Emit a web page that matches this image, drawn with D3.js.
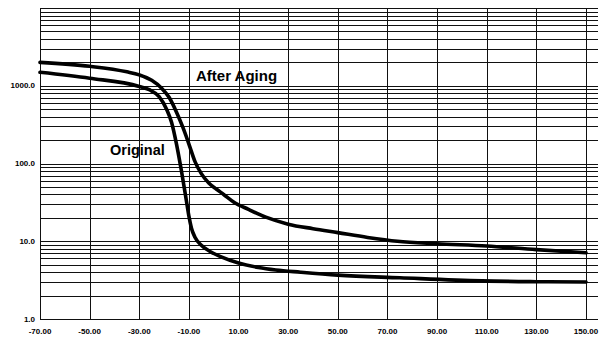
<!DOCTYPE html>
<html>
<head>
  <meta charset="utf-8">
  <title>After Aging vs Original</title>
  <script src="https://d3js.org/d3.v7.min.js"></script>
  <style>
    body { margin: 0; background: #fff; }
    text { font-family: 'Liberation Sans', Arial, sans-serif; font-weight: bold; fill: #000; }
    .grid line { stroke: #111; stroke-width: 1.3px; shape-rendering: crispEdges; }
    .curve { fill: none; stroke: #000; stroke-width: 3.6px; stroke-linecap: round; }
  </style>
</head>
<body>
  <div id="chart"></div>
  <script>
    // temperature ticks along the bottom
    const xTicks = [-70, -50, -30, -10, 10, 30, 50, 70, 90, 110, 130, 150];
    // labelled decades on the log axis
    const yLabels = [1, 10, 100, 1000];

    // "After Aging" curve
    const agedX = [-70, -50, -35, -30, -25, -21, -18, -15, -12.5, -10, -7.5, -5, -2, 1, 4, 8, 14, 21, 30, 40, 50, 62, 74, 90, 110, 130, 150];
    const agedY = [2000, 1780, 1510, 1380, 1175, 930, 710, 457, 295, 178, 105, 74, 56, 47, 40, 32, 25.7, 20.4, 16.6, 14.5, 12.9, 11.2, 10, 9.3, 8.7, 7.8, 7.1];

    // "Original" curve
    const origX = [-70, -50, -30, -26, -22, -19, -17, -15, -13, -11, -10, -9, -7.5, -5, -1.5, 3, 10, 18, 25, 35, 50, 75, 108, 130, 150];
    const origY = [1490, 1250, 980, 890, 725, 500, 340, 178, 80, 33, 21, 14.8, 11.2, 8.9, 7.4, 6.3, 5.25, 4.6, 4.27, 4.0, 3.67, 3.39, 3.09, 3.02, 2.99];

    const W = 601, H = 346;
    const margin = { top: 8, right: 3, bottom: 27, left: 40 };

    const svg = d3.select("#chart")
      .append("svg")
      .attr("width", W)
      .attr("height", H);

    const x = d3.scaleLinear().domain([-70, 150]).range([margin.left, 586]);
    const y = d3.scaleLog().domain([1, 10000]).range([H - margin.bottom, margin.top]);

    const grid = svg.append("g").attr("class", "grid");

    // horizontal log grid (1..9 in every decade)
    grid.selectAll("line.h")
      .data(y.ticks())
      .enter()
      .append("line")
      .attr("class", "h")
      .attr("x1", margin.left)
      .attr("x2", W - margin.right)
      .attr("y1", d => Math.round(y(d)) + 0.5)
      .attr("y2", d => Math.round(y(d)) + 0.5);

    // vertical grid at every x tick
    grid.selectAll("line.v")
      .data(xTicks)
      .enter()
      .append("line")
      .attr("class", "v")
      .attr("x1", d => Math.round(x(d)) + 0.5)
      .attr("x2", d => Math.round(x(d)) + 0.5)
      .attr("y1", y(10000))
      .attr("y2", y(1));

    // tick labels
    svg.append("g")
      .selectAll("text")
      .data(yLabels)
      .enter()
      .append("text")
      .attr("x", 35)
      .attr("y", d => y(d) + 2.5)
      .attr("text-anchor", "end")
      .style("font-size", "8px")
      .text(d => d.toFixed(1));

    svg.append("g")
      .selectAll("text")
      .data(xTicks)
      .enter()
      .append("text")
      .attr("x", d => x(d))
      .attr("y", 334)
      .attr("text-anchor", "middle")
      .style("font-size", "8px")
      .text(d => d.toFixed(2));

    const line = d3.line()
      .x(d => x(d[0]))
      .y(d => y(d[1]))
      .curve(d3.curveMonotoneX);

    svg.append("path")
      .attr("class", "curve")
      .attr("d", line(d3.zip(agedX, agedY)));

    svg.append("path")
      .attr("class", "curve")
      .attr("d", line(d3.zip(origX, origY)));

    svg.append("text")
      .attr("x", 196)
      .attr("y", 81)
      .style("font-size", "15px")
      .text("After Aging");

    svg.append("text")
      .attr("x", 110)
      .attr("y", 155)
      .style("font-size", "14.5px")
      .text("Original");
  </script>
</body>
</html>
